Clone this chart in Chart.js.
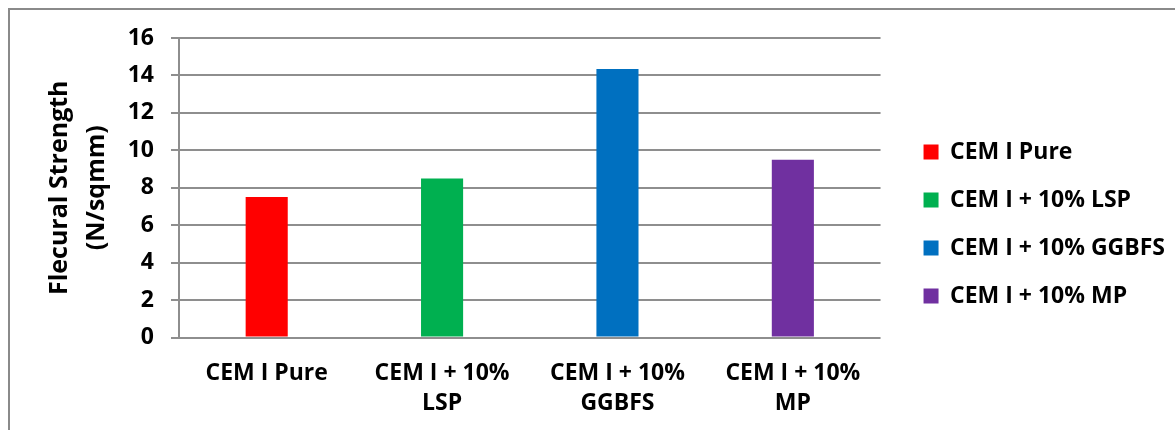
<!DOCTYPE html>
<html>
<head>
<meta charset="utf-8">
<script src="https://cdn.jsdelivr.net/npm/chart.js@4.4.1/dist/chart.umd.min.js"></script>
<style>
  html, body { margin: 0; padding: 0; background: #fff; }
  #wrap { position: relative; width: 1175px; height: 430px; overflow: hidden; }
  #frame { position: absolute; left: 8px; top: 8px; width: 1200px; height: 460px; border: 2px solid #8a8a8a; box-sizing: border-box; pointer-events: none; }
</style>
</head>
<body>
<div id="wrap">
  <canvas id="strengthChart"></canvas>
  <div id="frame"></div>
</div>
<script>
// chart values
const categories = [
    ["CEM I Pure"],
    ["CEM I + 10%", "LSP"],
    ["CEM I + 10%", "GGBFS"],
    ["CEM I + 10%", "MP"],
];
const strengthValues = [7.5, 8.5, 14.35, 9.5];
const barColors = ["#FF0000", "#00B050", "#0070C0", "#7030A0"];
const yTicks = [0, 2, 4, 6, 8, 10, 12, 14, 16];
const yTitle = ["Flecural Strength", "(N/sqmm)"];

const FONT = "'Open Sans', 'Liberation Sans', sans-serif";
const gridGray = "#8e8e8e";

// nudge the legend (excel leaves a gap after the plot)
const legendShift = {
    id: "legendShift",
    afterLayout(chart) {
        if (chart.legend) {
            chart.legend.left += 18;
            chart.legend.right += 18;
            chart.legend.top -= 10;
            chart.legend.bottom -= 10;
        }
    },
};

const strengthConfig = {
    type: "bar",
    data: {
        labels: categories,
        datasets: [
            {
                label: "Flecural Strength",
                data: strengthValues,
                backgroundColor: barColors,
                borderWidth: 0,
                categoryPercentage: 1,
                barPercentage: 0.24,
            },
        ],
    },
    options: {
        responsive: true,
        maintainAspectRatio: false,
        animation: false,
        layout: {
            padding: { left: 10, top: 38, right: 18, bottom: 0 },
        },
        scales: {
            x: {
                grid: { display: false, drawTicks: false },
                border: { display: false },
                ticks: {
                    color: "#000",
                    padding: 21,
                    maxRotation: 0,
                    font: { family: FONT, size: 23, weight: "bold", lineHeight: 1.3 },
                },
                afterFit(scale) {
                    scale.height = 92.5;
                },
            },
            y: {
                min: 0,
                max: 16,
                afterBuildTicks(scale) {
                    scale.ticks = yTicks.map((v) => ({ value: v }));
                },
                grid: { color: gridGray, lineWidth: 2, tickLength: 8 },
                border: { display: true, color: gridGray, width: 2 },
                ticks: {
                    color: "#000",
                    padding: 17,
                    font: { family: FONT, size: 23, weight: "bold" },
                },
                title: {
                    display: true,
                    text: yTitle,
                    color: "#000",
                    padding: { top: 31 },
                    font: { family: FONT, size: 25, weight: "bold", lineHeight: "37px" },
                },
                afterFit(scale) {
                    scale.width = 169;
                },
            },
        },
        plugins: {
            tooltip: { enabled: false },
            legend: {
                position: "right",
                align: "center",
                labels: {
                    color: "#000",
                    boxWidth: 15,
                    boxHeight: 15,
                    padding: 25,
                    font: { family: FONT, size: 23, weight: "bold" },
                    generateLabels(chart) {
                        return categories.map((c, i) => ({
                            text: c.join(" "),
                            fillStyle: barColors[i],
                            strokeStyle: barColors[i],
                            lineWidth: 0,
                            hidden: false,
                            index: i,
                        }));
                    },
                },
            },
        },
    },
    plugins: [legendShift],
};

const strengthCtx = document.getElementById("strengthChart");
window.strengthChart = new Chart(strengthCtx, strengthConfig);
</script>
</body>
</html>
